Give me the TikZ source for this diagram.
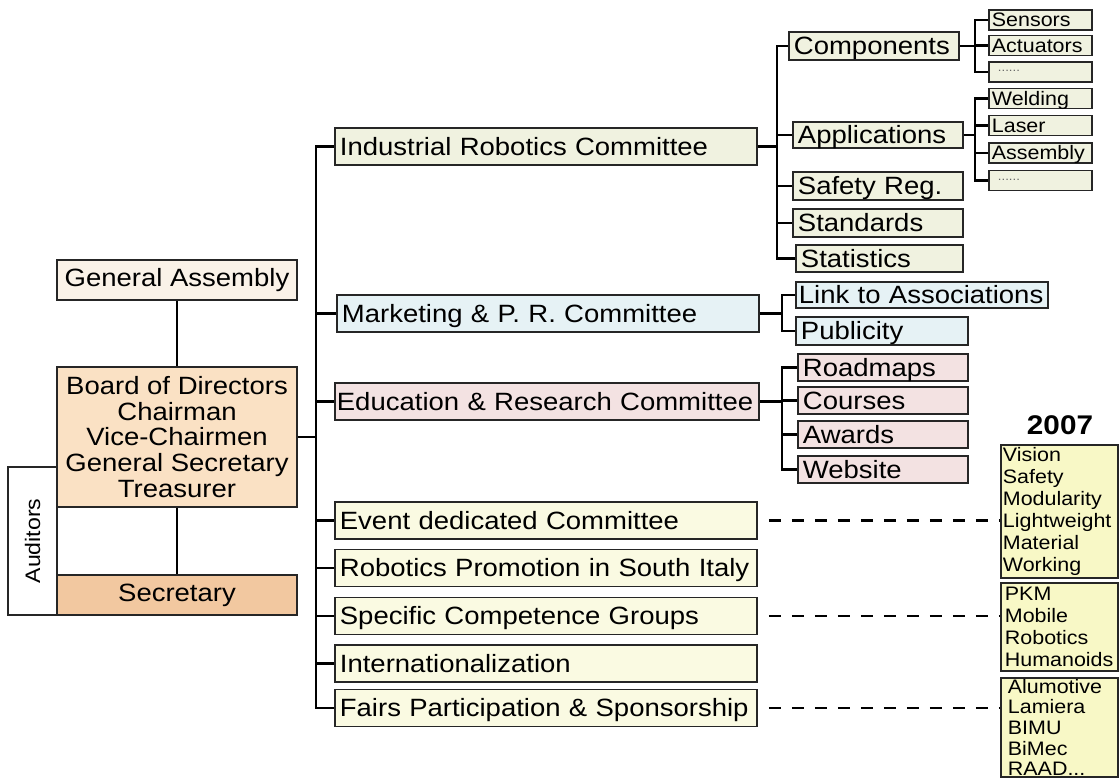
\documentclass[tikz,border=0pt]{standalone}
\usepackage{fontspec}
\setmainfont{Liberation Sans}[FakeStretch=1.1]
\usepackage{xcolor}
\usetikzlibrary{calc}

\definecolor{gacol}{RGB}{250,242,232}
\definecolor{bdcol}{RGB}{250,225,196}
\definecolor{secol}{RGB}{242,200,160}
\definecolor{ircol}{RGB}{240,242,224}
\definecolor{mkcol}{RGB}{230,242,245}
\definecolor{edcol}{RGB}{243,226,226}
\definecolor{cmcol}{RGB}{250,250,226}
\definecolor{yrcol}{RGB}{248,248,198}

\newcommand{\mainsz}{\fontsize{25}{25.7}\selectfont}
\newcommand{\subsz}{\fontsize{19.5}{22}\selectfont}
\newcommand{\dotsx}{\raisebox{7pt}{\hspace{6pt}\color{black!60}\fontsize{12}{12}\selectfont ......}}

\begin{document}
\begin{tikzpicture}[x=1pt, y=-1pt,
    conn/.style={line width=2.4pt},
    dline/.style={line width=2.2pt, dash pattern=on 12pt off 11pt, dash phase=12pt},
    box/.style={draw=black!85, line width=1.8pt, anchor=west, inner xsep=5pt, inner ysep=0pt,
        align=left, font=\mainsz, text height=17.9pt, text depth=0pt},
    sbox/.style={box, inner xsep=5pt},
    tbox/.style={box, inner xsep=3pt, font=\subsz, text height=14pt, minimum height=20pt},
    ybox/.style={draw=black!85, line width=1.8pt, anchor=north west, inner xsep=2pt, inner ysep=0pt,
        align=left, font=\subsz, fill=yrcol, text width=113pt}]
    \fill[white] (0,0) rectangle (1119,778);
    \useasboundingbox (0,0) rectangle (1119,778);

    % Assembly, board and secretary
    \node[draw=black!85, line width=1.2pt, fill=white, rotate=90, minimum width=148pt,
        minimum height=49pt, font=\fontsize{21}{22}\selectfont] (aud) at (32.5,541) {Auditors};
    \node[draw=black!85, line width=1.8pt, fill=gacol, minimum width=240pt, minimum height=40pt,
        font=\mainsz] (ga) at (177,280) {General Assembly};
    \node[draw=black!85, line width=1.8pt, fill=bdcol, minimum width=240pt, minimum height=140pt,
        align=center, font=\mainsz] (board) at (177,437)
        {Board of Directors\\Chairman\\Vice-Chairmen\\General Secretary\\Treasurer};
    \node[draw=black!85, line width=1.8pt, fill=secol, minimum width=240pt, minimum height=40pt,
        font=\mainsz] (sec) at (177,595) {Secretary};
    \draw[conn] (ga) -- (board);
    \draw[conn] (board) -- (sec);

    % Committees
    \node[box, fill=ircol, text width=412pt, minimum height=37pt] (irc) at (334,146.5) {Industrial Robotics Committee};
    \node[box, fill=mkcol, text width=412pt, minimum height=37pt] (mpr) at (336,313.5) {Marketing \& P. R. Committee};
    \node[box, fill=edcol, inner xsep=2pt, text width=420pt, minimum height=37pt] (erc) at (334,401.5) {Education \& Research Committee};
    \foreach \n/\t/\y in {edc/Event dedicated Committee/520.5, rps/Robotics Promotion in South Italy/568,
        scg/Specific Competence Groups/616, int/Internationalization/663.5,
        fps/Fairs Participation \& Sponsorship/708}
        \node[box, fill=cmcol, text width=412pt, minimum height=37pt] (\n) at (334,\y) {\t};

    \coordinate (tk) at (316,0);
    \draw[conn] (irc.west) -- (irc.west -| tk) -- (fps.west -| tk) -- (fps.west);
    \foreach \n in {mpr,erc,edc,rps,scg,int}
        \draw[conn] (\n.west) -- (\n.west -| tk);
    \draw[conn] (board.east) -- (board.east -| tk);

    % Industrial robotics branches
    \foreach \n/\t/\l/\w/\y/\h in {comp/Components/788/160/46/28, app/Applications/792/160/135/26,
        saf/Safety Reg./792/160/186/28, std/Standards/792/160/223/28, sta/Statistics/795/157/258.5/27}
        \node[sbox, fill=ircol, text width=\w pt, minimum height=\h pt] (\n) at (\l,\y) {\t};
    \coordinate (bi) at (777,0);
    \draw[conn] (comp.west) -- (comp.west -| bi) -- (sta.west -| bi) -- (sta.west);
    \foreach \n in {app,saf,std}
        \draw[conn] (\n.west) -- (\n.west -| bi);
    \draw[conn] (irc.east) -- (irc.east -| bi);

    \foreach \n/\t/\y in {sen/Sensors/20, act/Actuators/45.5, cdt/\dotsx/72,
        wel/Welding/98.5, las/Laser/125.5, asm/Assembly/153, adt/\dotsx/180.5}
        \node[tbox, fill=ircol, text width=97pt] (\n) at (988,\y) {\t};
    \coordinate (bc) at (975,0);
    \draw[conn] (sen.west) -- (sen.west -| bc) -- (cdt.west -| bc) -- (cdt.west);
    \draw[conn] (act.west) -- (act.west -| bc);
    \draw[conn] (comp.east) -- (comp.east -| bc);
    \draw[conn] (wel.west) -- (wel.west -| bc) -- (adt.west -| bc) -- (adt.west);
    \foreach \n in {las,asm}
        \draw[conn] (\n.west) -- (\n.west -| bc);
    \draw[conn] (app.east) -- (app.east -| bc);

    % Marketing and education branches
    \coordinate (bm) at (782,0);
    \node[sbox, inner xsep=3pt, fill=mkcol, text width=246pt, minimum height=26pt] (lta) at (795,295) {Link to Associations};
    \node[sbox, fill=mkcol, text width=162pt, minimum height=28pt] (pub) at (795,331) {Publicity};
    \draw[conn] (lta.west) -- (lta.west -| bm) -- (pub.west -| bm) -- (pub.west);
    \draw[conn] (mpr.east) -- (mpr.east -| bm);

    \foreach \n/\t/\y in {roa/Roadmaps/367.5, cou/Courses/400.5, awa/Awards/434.5, web/Website/469.5}
        \node[sbox, fill=edcol, text width=160pt, minimum height=27pt] (\n) at (797,\y) {\t};
    \draw[conn] (roa.west) -- (roa.west -| bm) -- (web.west -| bm) -- (web.west);
    \foreach \n in {cou,awa}
        \draw[conn] (\n.west) -- (\n.west -| bm);
    \draw[conn] (erc.east) -- (erc.east -| bm);

    % 2007 topics
    \node[font=\fontsize{27}{27}\selectfont\bfseries] (yr) at (1060,425) {2007};
    \node[ybox, minimum height=133pt] (ev07) at (1000,444) {Vision\\Safety\\Modularity\\Lightweight\\Material\\Working};
    \node[ybox, minimum height=88pt, inner xsep=4pt, text width=109pt] (cg07) at (1000,582) {PKM\\Mobile\\Robotics\\Humanoids};
    \node[ybox, minimum height=99pt, inner xsep=7pt, text width=103pt, font=\fontsize{19.5}{20.6}\selectfont] (fa07) at (1000,677) {Alumotive\\Lamiera\\BIMU\\BiMec\\RAAD...};
    \draw[dline] (edc.east) -- (edc.east -| ev07.west);
    \draw[dline] (scg.east) -- (scg.east -| cg07.west);
    \draw[dline] (fps.east) -- (fps.east -| fa07.west);
\end{tikzpicture}
\end{document}
